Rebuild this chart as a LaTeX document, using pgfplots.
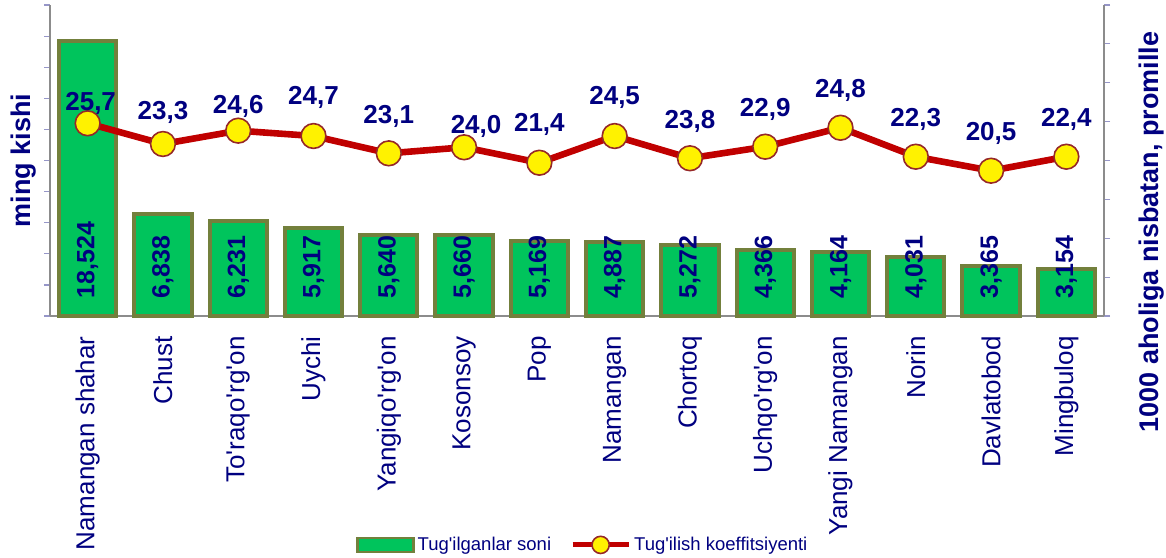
\documentclass[border=0pt]{standalone}
\usepackage{pgfplots}
\pgfplotsset{compat=1.18}
\usepackage{pgfplotstable}
\usepackage{fontspec}
\setmainfont{Liberation Sans}[Ligatures=TeXOff]

\definecolor{navy}{RGB}{0,0,128}
\definecolor{bargreen}{RGB}{0,196,92}
\definecolor{barolive}{RGB}{115,128,60}
\definecolor{linered}{RGB}{192,0,0}
\definecolor{markborder}{RGB}{150,40,40}
\definecolor{axisgray}{RGB}{140,140,140}
\definecolor{tickblue}{RGB}{150,150,200}

\pgfplotsset{
    ratelegend/.style={legend image code/.code={\draw[##1, line width=2.5pt, mark size=4.3pt, mark repeat=2, mark phase=2] plot coordinates {(0pt,0pt) (14pt,0pt) (28pt,0pt)};}},
    barlegend/.style={legend image code/.code={\draw[fill=bargreen, draw=barolive, line width=1.2pt] (0pt,-3.5pt) rectangle (28pt,3.5pt);}},
}

% bar height as drawn (h) and printed label (n)
\pgfplotstableread{
x h n
0 18524 18524
1 6860 6838
2 6390 6231
3 5920 5917
4 5450 5640
5 5450 5660
6 5050 5169
7 4960 4887
8 4780 5272
9 4440 4366
10 4330 4164
11 3990 4031
12 3345 3365
13 3140 3154
}\births

% line height as drawn (r), printed label (v), label offsets in pt
\pgfplotstableread{
x r v dx dy
0 25.83 25.7 1.5 10
1 23.70 23.3 0 16
2 25.07 24.6 0 12
3 24.52 24.7 0 19.5
4 22.74 23.1 0 18.5
5 23.36 24.0 6 10.5
6 21.77 21.4 0 19
7 24.52 24.5 0 19.5
8 22.23 23.8 0 18.5
9 23.42 22.9 0 18.5
10 25.37 24.8 0 18.5
11 22.39 22.3 0 18.5
12 20.95 20.5 0 18.5
13 22.39 22.4 0 18.5
}\rate

\begin{document}
\begin{tikzpicture}
\begin{axis}[
    width=527pt, height=155.5pt, scale only axis,
    clip=false,
    xmin=-0.5, xmax=13.5, ymin=0, ymax=20930,
    axis x line*=bottom, axis y line*=left,
    axis line style={draw=axisgray, line width=0.8pt, -},
    tick align=outside,
    xtick={0,...,13},
    xticklabels={Namangan shahar,Chust,To'raqo'rg'on,Uychi,Yangiqo'rg'on,Kosonsoy,Pop,Namangan,Chortoq,Uchqo'rg'on,Yangi Namangan,Norin,Davlatobod,Mingbuloq},
    major x tick style={draw=none},
    x tick label style={rotate=90, anchor=east, inner sep=0pt, font=\fontsize{13}{13}\selectfont, text=navy},
    xticklabel shift=7pt,
    extra x ticks={-0.5,0.5,...,13.5},
    extra x tick labels={},
    extra x tick style={major tick length=4pt, tick style={draw=axisgray, line width=0.8pt}},
    ytick={0,2093,...,20930},
    yticklabels={},
    major tick length=3pt,
    y tick style={draw=tickblue, line width=0.6pt},
    ylabel={\bfseries ming kishi},
    every axis y label/.style={at={(axis description cs:-0.0123,0.5)}, rotate=90, anchor=south, inner sep=0pt, font=\fontsize{13.5}{13.5}\selectfont, text=navy},
]
\addplot[ybar, bar width=0.76, fill=bargreen, draw=barolive, line width=2pt]
    table[x=x, y=h]{\births};
\addplot[draw=none, mark=none, point meta=explicit,
    nodes near coords={\pgfmathprintnumber[fixed, precision=0, 1000 sep={,}, assume math mode=true]{\pgfplotspointmeta}},
    every node near coord/.append style={rotate=90, anchor=west, inner sep=0pt, font=\bfseries\fontsize{12.5}{12.5}\selectfont, text=navy}]
    table[x=x, y expr=1150, meta=n]{\births};
\end{axis}

\begin{axis}[
    width=527pt, height=155.5pt, scale only axis,
    clip=false,
    xmin=-0.5, xmax=13.5, ymin=6, ymax=38,
    axis x line=none, axis y line*=right,
    axis line style={draw=axisgray, line width=0.8pt, -},
    tick align=outside,
    ytick={6,10,...,38},
    yticklabels={},
    major tick length=3pt,
    y tick style={draw=tickblue, line width=0.6pt},
    ylabel={\bfseries 1000 aholiga nisbatan, promille},
    every axis y label/.style={at={(axis description cs:1.0323,0.27)}, rotate=90, anchor=north, inner sep=0pt, font=\fontsize{13.5}{13.5}\selectfont, text=navy},
    legend columns=2,
    legend cell align=left,
    legend style={at={(axis description cs:0.506,-0.736)}, anchor=center, draw=none, fill=none,
        font=\fontsize{9.25}{10}\selectfont, text=navy,
        nodes={inner xsep=1.5pt},
        /tikz/every even column/.append style={column sep=8pt}},
]
\addlegendimage{barlegend}
\addlegendentry{Tug'ilganlar soni}
\addplot[linered, line width=3.3pt, mark=*, mark size=6.2pt,
    mark options={fill=yellow, draw=markborder, line width=0.8pt},
    point meta=explicit,
    visualization depends on={\thisrow{dx}\as\labdx},
    visualization depends on={\thisrow{dy}\as\labdy},
    nodes near coords={\pgfmathprintnumber[fixed, fixed zerofill, precision=1, use comma, assume math mode=true]{\pgfplotspointmeta}},
    every node near coord/.append style={anchor=center, xshift={\labdx*1pt}, yshift={\labdy*1pt}, font=\bfseries\fontsize{13}{13}\selectfont, text=navy},
    ratelegend]
    table[x=x, y=r, meta=v]{\rate};
\addlegendentry{Tug'ilish koeffitsiyenti}
\coordinate (bl) at (rel axis cs:0,0);
\coordinate (tr) at (rel axis cs:1,1);
\end{axis}
\pgfresetboundingbox
\path[use as bounding box] ([shift={(-25pt,-120.5pt)}]bl) rectangle ([shift={(31pt,2.5pt)}]tr);
\end{tikzpicture}
\end{document}
